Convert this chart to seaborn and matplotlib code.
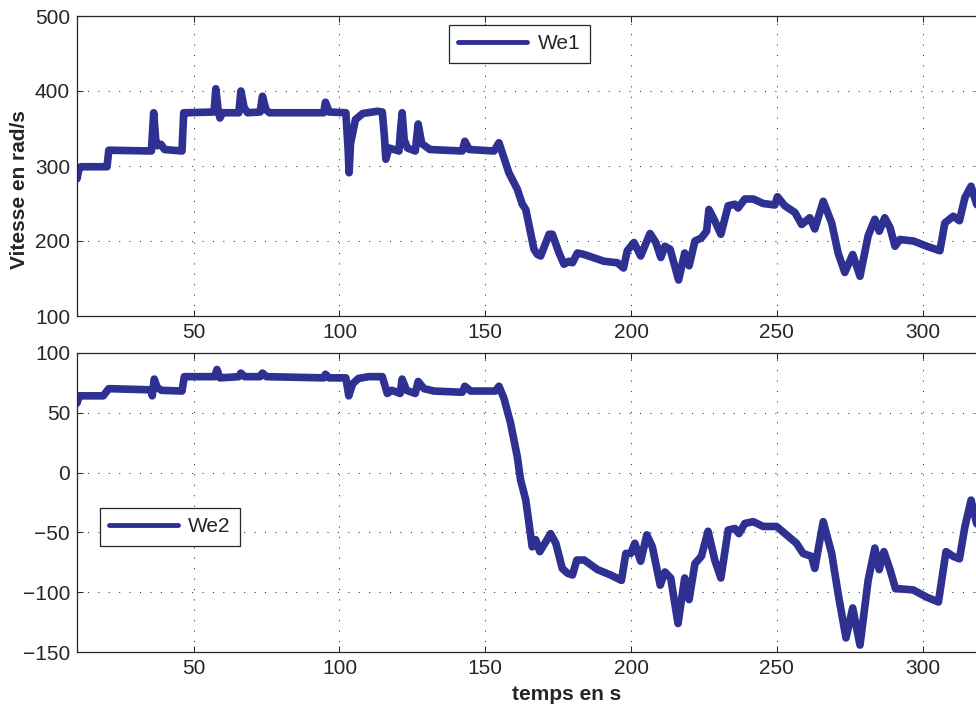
import numpy as np
import pandas as pd
import matplotlib
matplotlib.use("Agg")
import matplotlib.pyplot as plt
import seaborn as sns

# ---------------- data ----------------
t1 = [10, 10.8, 11.5, 20.3, 20.9, 21.5, 35.5, 36.3, 37.0, 37.5, 38.8, 40.0, 46.0, 46.6,
      47.5, 57.0, 57.6, 58.3, 59.0, 60.0, 65.5, 66.2, 67.3, 68.5, 72.8, 73.6, 74.8, 76.0,
      94.6, 95.2, 96.5, 102.2, 103.0, 103.3, 103.8, 105.5, 108.0, 113.0, 114.7, 115.4,
      115.9, 117.0, 120.4, 121.0, 121.5, 122.2, 123.3, 126.0, 127.0, 128.2, 131.0, 142.1,
      143.0, 144.5, 153.0, 154.7, 155.8, 158.1, 161.0, 162.7, 163.9, 166.7, 167.9, 169.0,
      170.1, 171.9, 173.0, 175.3, 177.0, 178.7, 179.9, 181.6, 183.9, 190.7, 195.3, 197.4,
      198.7, 201.0, 203.3, 206.5, 208.5, 210.2, 211.6, 213.4, 216.3, 218.4, 219.9, 221.9,
      224.1, 225.9, 226.7, 228.7, 230.8, 233.3, 235.6, 236.7, 239.0, 241.9, 245.3, 249.3,
      250.2, 252.7, 256.2, 258.5, 261.3, 263.0, 265.9, 268.8, 271.0, 273.3, 276.0, 278.5,
      281.3, 283.6, 285.1, 287.0, 288.8, 290.5, 292.2, 296.8, 301.4, 305.9, 307.6, 310.5,
      312.6, 314.5, 316.6, 318.5, 320.0]
we1 = [283, 298, 299, 299, 321, 321, 320, 371, 335, 327, 329, 322, 320, 371,
       371, 372, 403, 378, 364, 371, 371, 400, 378, 371, 372, 393, 375, 371,
       371, 385, 372, 371, 320, 291, 330, 362, 370, 373, 372, 340,
       309, 324, 320, 350, 371, 335, 324, 320, 356, 330, 322, 320,
       333, 322, 320, 331, 318, 291, 269, 249, 242, 189, 182, 180,
       191, 209, 209, 184, 169, 173, 171, 184, 182, 173, 171, 164,
       187, 198, 180, 210, 198, 178, 193, 189, 148, 184, 167, 200,
       204, 213, 242, 227, 209, 247, 249, 244, 256, 256, 250, 248,
       259, 247, 238, 222, 231, 216, 253, 224, 184, 158, 182, 153,
       207, 229, 213, 231, 218, 193, 202, 200, 193, 187, 224, 233,
       227, 258, 273, 249, 240]

t2 = [10, 10.8, 19.0, 20.9, 35.5, 35.8, 36.5, 37.5, 39.0, 46.0, 46.8, 57.2, 58.0, 59.0,
      65.5, 66.2, 67.5, 72.8, 73.6, 75.0, 94.6, 95.2, 96.5, 102.2, 103.2, 104.5, 106.5,
      110.0, 114.7, 116.4, 118.0, 120.8, 121.5, 123.0, 126.0, 127.0, 129.0, 132.4, 142.1,
      143.0, 145.0, 153.5, 154.7, 156.4, 158.7, 161.0, 162.1, 163.9, 166.1, 167.3, 168.7,
      170.7, 172.4, 174.2, 176.4, 178.2, 179.9, 181.4, 183.9, 188.5, 193.0, 196.7, 198.2,
      199.9, 201.3, 203.3, 205.4, 207.3, 210.0, 211.6, 213.6, 216.1, 218.4, 219.9, 221.9,
      224.1, 226.4, 228.7, 230.8, 233.3, 235.6, 237.0, 239.0, 241.9, 245.3, 249.9, 253.3,
      256.7, 259.0, 261.9, 263.0, 265.9, 268.8, 271.0, 273.7, 276.0, 278.5, 281.3, 283.6,
      285.1, 286.7, 288.8, 290.7, 292.2, 296.8, 301.4, 305.4, 308.0, 310.5, 312.6, 314.5,
      316.6, 318.5, 320.0]
we2 = [58, 64, 64, 70, 69, 64, 78, 71, 68.6, 68, 80, 80, 86, 79,
       80, 83, 80, 80, 83, 80, 79, 82, 79, 79, 64, 74, 78.5,
       80, 80, 66, 68.6, 66, 78, 68.6, 66, 76, 70, 68, 67,
       72, 68, 68, 72, 62, 41, 13, -6, -23, -62, -56, -66,
       -58, -51, -59, -80, -84, -85.5, -73, -73, -81, -85.5, -90, -67.5,
       -67.5, -59, -74, -52, -62, -94, -83, -88, -126, -88, -106, -76,
       -70, -49, -73, -88, -48, -46.7, -51, -42.5, -41, -45, -45, -52,
       -59, -67.5, -70, -80, -41, -67.5, -101, -138, -113, -144, -90, -63,
       -81, -66, -81, -97, -97, -98, -104, -108, -66, -70, -72, -45,
       -23, -42.5, -48]

y1_ticks = [100, 200, 300, 400, 500]
y2_ticks = [-150, -100, -50, 0, 50, 100]
x_ticks = [50, 100, 150, 200, 250, 300]

# ---------------- style ----------------
sns.set_style("ticks")
plt.rcParams["font.family"] = ["Liberation Sans", "DejaVu Sans"]
plt.rcParams["lines.solid_capstyle"] = "round"
plt.rcParams["lines.solid_joinstyle"] = "round"
txt = "#262626"
blue = "#2e3192"

W, H = 976, 707
fig = plt.figure(figsize=(W / 100, H / 100), dpi=100)
left, right = 77, 981
ax1 = fig.add_axes([left / W, 1 - 316 / H, (right - left) / W, 300 / H])
ax2 = fig.add_axes([left / W, 1 - 652.3 / H, (right - left) / W, 299.6 / H])

df1 = pd.DataFrame({"t": t1, "w": we1})
df2 = pd.DataFrame({"t": t2, "w": we2})

sns.lineplot(data=df1, x="t", y="w", ax=ax1, color=blue, lw=5.5, label="We1",
             estimator=None, sort=False)
sns.lineplot(data=df2, x="t", y="w", ax=ax2, color=blue, lw=5.5, label="We2",
             estimator=None, sort=False)

for ax, yt in ((ax1, y1_ticks), (ax2, y2_ticks)):
    ax.set_xlim(10, 320)
    ax.set_ylim(yt[0], yt[-1])
    ax.set_xticks(x_ticks)
    ax.set_yticks(yt)
    ax.set_yticklabels([str(v).replace("-", "\u2212") for v in yt])
    ax.grid(True, color="#333333", linestyle=(0, (1, 9)), linewidth=0.75)
    ax.tick_params(direction="in", length=4.5, width=0.75, top=True, right=True,
                   labelsize=15, colors=txt, pad=5)
    for s in ax.spines.values():
        s.set_linewidth(0.9)
        s.set_color(txt)
    ax.set_xlabel("")
    ax.set_ylabel("")

ax1.set_ylabel("Vitesse en rad/s", fontsize=15, fontweight="bold", color=txt)
ax1.yaxis.set_label_coords((29 - left) / (right - left), 0.42)
ax2.set_xlabel("temps en s", fontsize=15, fontweight="bold", color=txt)
ax2.xaxis.set_label_coords((567 - left) / (right - left), (652.3 - 685) / 299.6)

leg_kw = dict(fontsize=15, frameon=True, fancybox=False, shadow=False,
              edgecolor=txt, framealpha=1, handlelength=3.3, borderaxespad=0,
              borderpad=0.45, handletextpad=0.5, loc="upper left")
l1 = ax1.legend(bbox_to_anchor=((449 - left) / (right - left), (316 - 25) / 300), **leg_kw)
l2 = ax2.legend(bbox_to_anchor=((99.7 - left) / (right - left), (652.3 - 508) / 299.6), **leg_kw)
for lg in (l1, l2):
    lg.get_frame().set_linewidth(0.9)
    for h in lg.get_lines():
        h.set_linewidth(3.5)
    for tx in lg.get_texts():
        tx.set_color(txt)

fig.savefig("out.png", dpi=100)
